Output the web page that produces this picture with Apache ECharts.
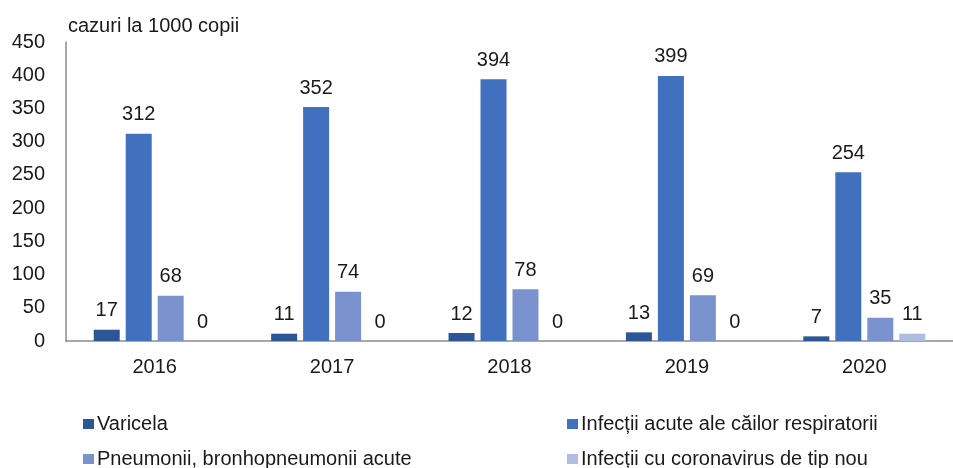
<!DOCTYPE html>
<html><head><meta charset="utf-8">
<script src="https://cdn.jsdelivr.net/npm/echarts@6/dist/echarts.min.js"></script>
<style>html,body{margin:0;padding:0;background:#fff}#c{width:953px;height:468px}</style>
</head><body><div id="c"></div>
<script>
const categories = ['2016','2017','2018','2019','2020'];
const varicela = [17, 11, 12, 13, 7];
const infectii = [312, 352, 394, 399, 254];
const pneumonii = [68, 74, 78, 69, 35];
const coronavirus = [0, 0, 0, 0, 11];
const seriesNames = ['Varicela','Infecții acute ale căilor respiratorii','Pneumonii, bronhopneumonii acute','Infecții cu coronavirus de tip nou'];
const yTicks = [0, 50, 100, 150, 200, 250, 300, 350, 400, 450];
const colors = ['#2E5596','#4070BE','#7A93CF','#B0BDE0'];
const FONT = '"Liberation Sans", Arial, sans-serif';
const FS = 20;
const txt = '#1a1a1a';

const chart = echarts.init(document.getElementById('c'));
const dataSets = [varicela, infectii, pneumonii, coronavirus];
const labelStyle = {show:true, position:'top', distance:9, color:txt, fontSize:FS, fontFamily:FONT};
const legendPos = [[78,409],[562,409],[78,444],[562,444]];
chart.setOption({
  animation:false,
  color: colors,
  textStyle:{fontFamily:FONT},
  title:{text:'cazuri la 1000 copii', left:63, top:11, textStyle:{fontSize:FS, fontWeight:'normal', color:txt, fontFamily:FONT}},
  grid:{left:66, top:42, width:896, height:299, containLabel:false},
  legend: seriesNames.map((n,i)=>({
    left:legendPos[i][0], top:legendPos[i][1], itemWidth:11, itemHeight:10, icon:'rect',
    textStyle:{fontSize:FS, color:txt, fontFamily:FONT, padding:[0,0,0,-2]}, data:[n]
  })),
  xAxis:{type:'category', data:categories,
    axisLine:{lineStyle:{color:'#8c8c8c', width:1.5}}, axisTick:{show:false},
    axisLabel:{color:txt, fontSize:FS, fontFamily:FONT, margin:16}},
  yAxis:{type:'value', min:yTicks[0], max:yTicks[yTicks.length-1], interval:50,
    axisLine:{show:true, lineStyle:{color:'#8c8c8c', width:1.5}}, axisTick:{show:false},
    splitLine:{show:false},
    axisLabel:{color:txt, fontSize:FS, fontFamily:FONT, margin:21}},
  series: dataSets.map((d,i)=>({
    name:seriesNames[i], type:'bar', data:d, barWidth:26, barGap:'23%',
    label:labelStyle
  }))
});
</script></body></html>
